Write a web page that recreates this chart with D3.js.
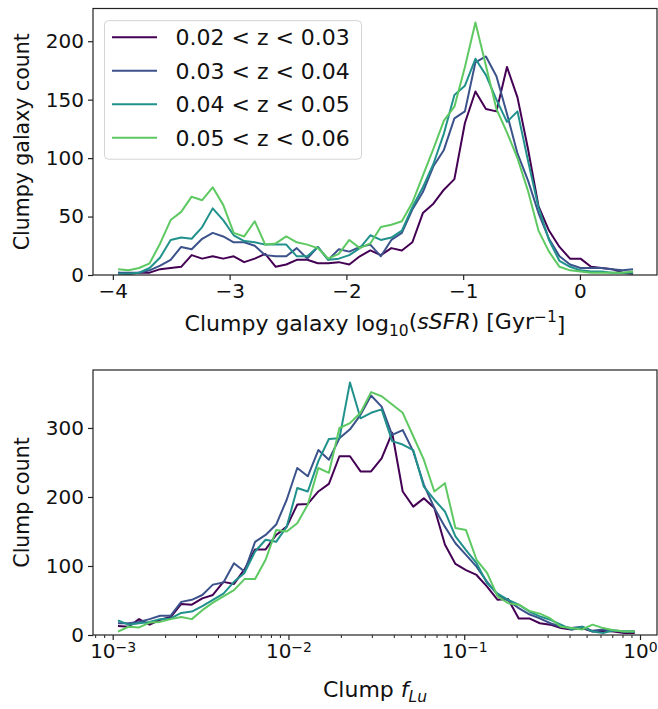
<!DOCTYPE html>
<html>
<head>
<meta charset="utf-8">
<script src="https://cdn.jsdelivr.net/npm/d3@7"></script>
<style>
  body { margin: 0; background: #fff; }
  text { font-family: "DejaVu Sans", sans-serif; fill: #111; }
</style>
</head>
<body>
<div id="wrapper"></div>
<script>
// redshift bins, viridis colours
var zLabels = ['0.02 < z < 0.03', '0.03 < z < 0.04', '0.04 < z < 0.05', '0.05 < z < 0.06'];
var colors = ['#440154', '#3b528b', '#21918c', '#5ec962'];

// top panel: histogram of log10(sSFR), 50 bins from -4 to 0.5
var ssfrRange = [-4, 0.5];
var ssfrCounts = [
  [2,1,2,2,5,6,7,17,14,16,14,16,11,14,18,7,9,13,13,10,10,11,9,16,21,17,23,21,28,53,61,73,82,130,157,142,140,178,152,108,59,38,24,14,14,7,6,5,2,1],
  [2,2,2,4,8,13,24,22,31,36,33,28,28,25,17,16,16,23,14,24,13,22,20,24,26,16,30,36,56,71,93,107,134,140,182,187,170,138,104,81,53,31,16,9,6,6,6,5,4,5],
  [1,1,2,6,15,30,32,31,41,57,47,34,29,28,26,26,26,16,16,24,13,14,17,23,34,30,32,38,58,75,95,121,154,162,185,171,150,131,140,98,58,30,12,7,4,3,3,2,2,2],
  [5,4,6,10,27,47,54,67,64,75,60,36,33,46,26,27,33,28,26,23,14,18,30,23,27,41,43,46,62,85,108,132,144,178,216,179,142,122,100,72,38,20,7,4,3,2,2,2,2,3]
];
var ssfrXTicks = [-4, -3, -2, -1, 0];
var ssfrYTicks = [0, 50, 100, 150, 200];

// bottom panel: histogram of clump f_Lu, 50 log bins from 1e-3 to 1
var fluRange = [1e-3, 1];
var fluCounts = [
  [13,12,23,15,22,26,45,44,53,58,77,74,95,124,124,145,157,189,190,208,219,259,259,237,237,256,293,208,186,198,184,131,103,94,87,70,51,52,24,24,17,15,10,8,10,5,6,5,3,3],
  [17,17,19,23,28,28,48,51,58,73,76,104,92,135,145,160,196,242,230,268,254,285,298,319,347,331,290,297,266,218,184,157,133,116,99,77,58,50,39,30,24,17,12,10,12,6,8,6,5,5],
  [21,15,17,19,23,24,32,34,42,51,60,77,90,121,138,135,157,213,208,252,284,285,366,314,322,327,281,276,268,215,196,179,143,123,104,75,60,51,44,34,27,22,15,8,12,5,3,7,5,5],
  [5,12,11,18,19,23,26,23,36,47,56,65,81,81,109,152,150,162,189,242,235,300,307,322,352,346,334,322,288,254,208,220,155,152,109,90,56,46,44,35,31,24,12,10,8,15,10,7,5,5]
];
var fluXTicks = [1e-3, 1e-2, 1e-1, 1];
var fluYTicks = [0, 100, 200, 300];

var W = 658, H = 709;
var svg = d3.select('#wrapper').append('svg')
  .attr('width', W).attr('height', H);

function drawPanel(opt) {
  var x = opt.x, y = opt.y;
  var g = svg.append('g');
  var n = opt.counts[0].length;

  // bin centres
  var centres = d3.range(n).map(function(i) {
    if (opt.log) {
      var a = Math.log10(opt.range[0]), b = Math.log10(opt.range[1]);
      return Math.pow(10, a + (b - a) * (i + 0.5) / n);
    }
    return opt.range[0] + (opt.range[1] - opt.range[0]) * (i + 0.5) / n;
  });

  var line = d3.line()
    .x(function(d, i) { return x(centres[i]); })
    .y(function(d) { return y(d); });

  g.append('g').selectAll('path')
    .data(opt.counts)
    .enter().append('path')
    .attr('d', line)
    .attr('fill', 'none')
    .attr('stroke', function(d, i) { return colors[i]; })
    .attr('stroke-width', 2)
    .attr('stroke-linejoin', 'round');

  var xAxis = d3.axisBottom(x).tickValues(opt.xTicks).tickSizeInner(5).tickSizeOuter(0).tickPadding(4);
  var yAxis = d3.axisLeft(y).tickValues(opt.yTicks).tickSizeInner(5).tickSizeOuter(0).tickPadding(4);
  if (!opt.log) xAxis.tickFormat(d3.format('d'));

  var gx = g.append('g').attr('transform', 'translate(0,' + y.range()[0] + ')').call(xAxis);
  var gy = g.append('g').attr('transform', 'translate(' + x.range()[0] + ',0)').call(yAxis);
  gy.select('.domain').remove();
  gx.select('.domain').remove();
  [gx, gy].forEach(function(a) {
    a.selectAll('text').style('font-size', '20px').style('font-family', '"DejaVu Sans", sans-serif').attr('fill', '#111');
    a.selectAll('line').attr('stroke', '#222').attr('stroke-width', 1.2);
  });

  if (opt.log) {
    // minor ticks
    var dom = x.domain(), minor = [];
    for (var e = -4; e <= 0; e++) {
      for (var m = 2; m < 10; m++) {
        var v = m * Math.pow(10, e);
        if (v > dom[0] && v < dom[1]) minor.push(v);
      }
    }
    gx.selectAll('line.minor').data(minor).enter().append('line')
      .attr('class', 'minor')
      .attr('x1', function(d) { return x(d); })
      .attr('x2', function(d) { return x(d); })
      .attr('y1', 0).attr('y2', 3)
      .attr('stroke', '#222').attr('stroke-width', 1);
    // 10^n labels
    gx.selectAll('.tick text').each(function(d) {
      var t = d3.select(this).text('');
      t.append('tspan').text('10');
      t.append('tspan').attr('dy', '-0.45em').style('font-size', '14px')
        .text(d3.format('d')(Math.round(Math.log10(d))));
    });
  }

  // frame
  g.append('rect')
    .attr('x', x.range()[0]).attr('y', y.range()[1])
    .attr('width', x.range()[1] - x.range()[0])
    .attr('height', y.range()[0] - y.range()[1])
    .attr('fill', 'none').attr('stroke', '#222').attr('stroke-width', 1.2);

  // y label
  g.append('text')
    .attr('transform', 'translate(' + opt.yLabelX + ',' + (y.range()[0] + y.range()[1]) / 2 + ') rotate(-90)')
    .attr('text-anchor', 'middle')
    .style('font-size', '20.5px')
    .text(opt.yLabel);

  return g;
}

// top panel
var xTop = d3.scaleLinear().domain([-4.17, 0.66]).range([93, 657]);
var yTop = d3.scaleLinear().domain([0, 228]).range([275, 8.5]);
var topPanel = drawPanel({ x: xTop, y: yTop, counts: ssfrCounts, range: ssfrRange, log: false,
  xTicks: ssfrXTicks, yTicks: ssfrYTicks, yLabel: 'Clumpy galaxy count', yLabelX: 29 });

var xl = topPanel.append('text')
  .attr('x', 375).attr('y', 331)
  .attr('text-anchor', 'middle')
  .style('font-size', '22px');
xl.append('tspan').text('Clumpy galaxy log');
xl.append('tspan').attr('dy', '0.3em').style('font-size', '15.5px').text('10');
xl.append('tspan').attr('dy', '-0.3em').text('(');
xl.append('tspan').style('font-style', 'italic').text('sSFR');
xl.append('tspan').text(') [Gyr');
xl.append('tspan').attr('dy', '-0.45em').style('font-size', '15.5px').text('\u22121');
xl.append('tspan').attr('dy', '0.45em').text(']');

// legend
var legend = topPanel.append('g').attr('transform', 'translate(104.5,20.7)');
legend.append('rect')
  .attr('width', 257).attr('height', 138.5).attr('rx', 4)
  .attr('fill', 'white').attr('fill-opacity', 0.8)
  .attr('stroke', '#d4d4d4').attr('stroke-width', 1);
var items = legend.selectAll('g.item').data(zLabels).enter().append('g')
  .attr('class', 'item')
  .attr('transform', function(d, i) { return 'translate(0,' + (16.6 + i * 33.5) + ')'; });
items.append('line')
  .attr('x1', 7.5).attr('x2', 52.5)
  .attr('stroke', function(d, i) { return colors[i]; })
  .attr('stroke-width', 2);
items.append('text')
  .attr('x', 71).attr('dy', '0.36em')
  .style('font-size', '22px')
  .text(function(d) { return d; });

// bottom panel
var xBot = d3.scaleLog().domain([Math.pow(10, -3.112), Math.pow(10, 0.0967)]).range([93, 657]);
var yBot = d3.scaleLinear().domain([0, 384]).range([635, 370]);
var botPanel = drawPanel({ x: xBot, y: yBot, counts: fluCounts, range: fluRange, log: true,
  xTicks: fluXTicks, yTicks: fluYTicks, yLabel: 'Clump count', yLabelX: 29 });

var bl = botPanel.append('text')
  .attr('x', 375).attr('y', 697)
  .attr('text-anchor', 'middle')
  .style('font-size', '22px');
bl.append('tspan').text('Clump ');
bl.append('tspan').style('font-style', 'italic').text('f');
bl.append('tspan').attr('dy', '0.3em').style('font-style', 'italic').style('font-size', '15.5px').text('Lu');
</script>
</body>
</html>
